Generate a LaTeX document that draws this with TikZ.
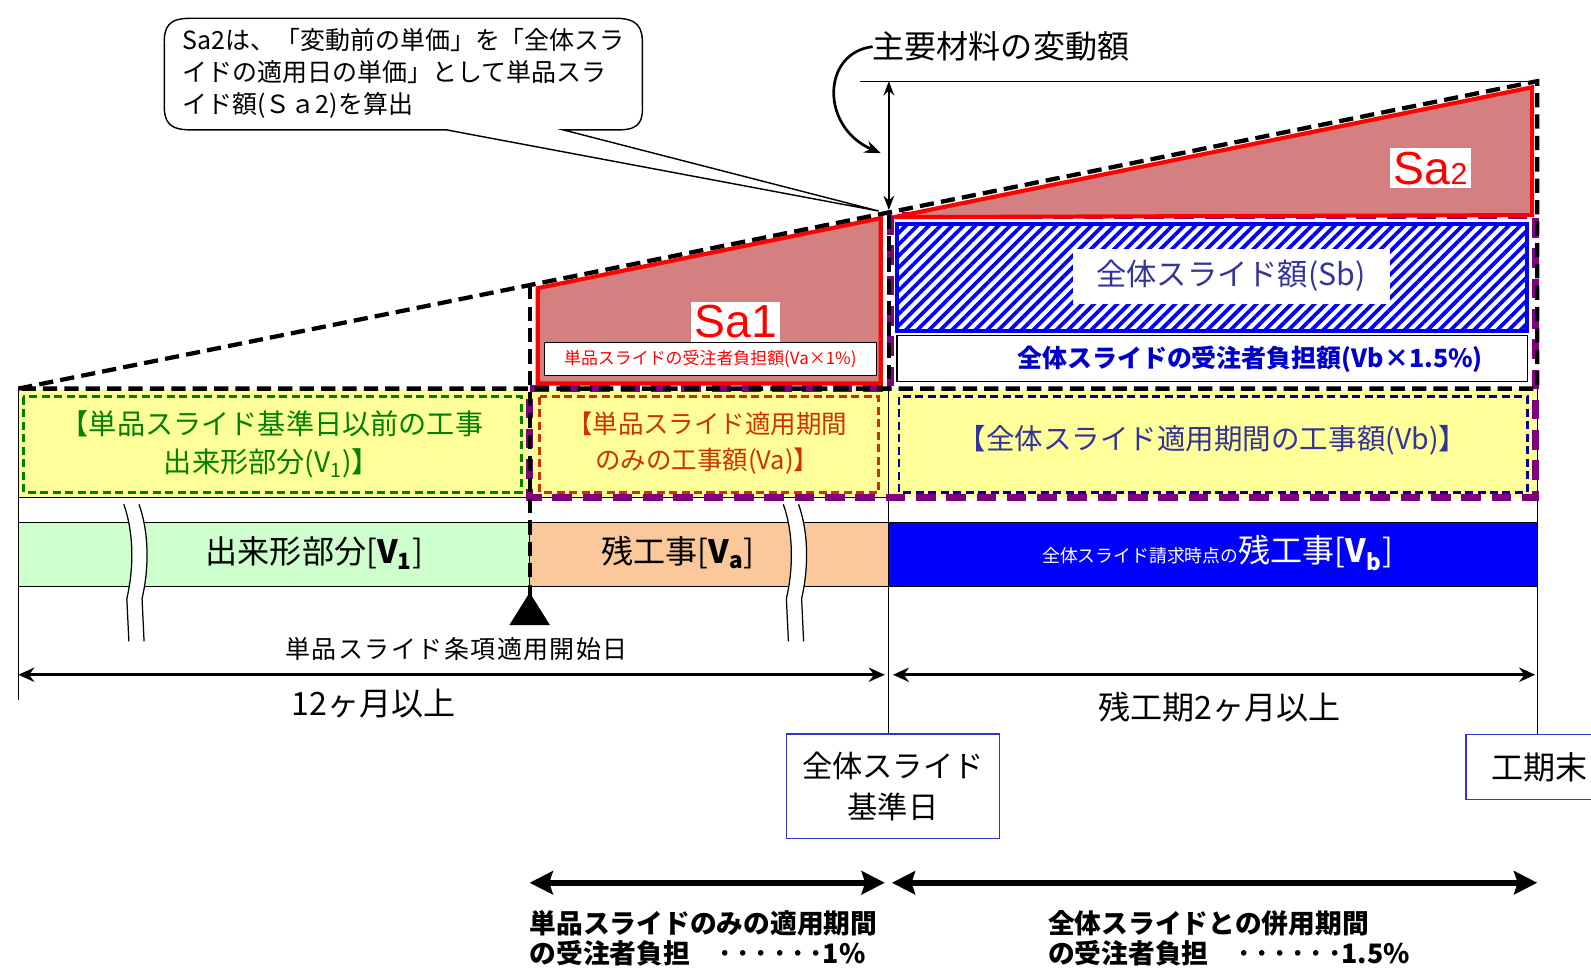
\documentclass[tikz,border=0pt]{standalone}
\usepackage{fontspec}
\setmainfont{Noto Sans CJK JP}
\newfontfamily\arialf{Liberation Sans}
\usetikzlibrary{arrows.meta,patterns.meta}
\definecolor{yel}{RGB}{255,255,153}
\definecolor{barg}{RGB}{204,255,204}
\definecolor{baro}{RGB}{250,200,155}
\definecolor{pur}{RGB}{128,0,128}
\definecolor{sared}{RGB}{212,128,128}
\definecolor{dgreen}{RGB}{0,128,0}
\definecolor{vared}{RGB}{204,51,0}
\definecolor{vblue}{RGB}{51,51,153}
\definecolor{dblue}{RGB}{0,0,153}
\definecolor{bblue}{RGB}{0,0,204}
\definecolor{boxblue}{RGB}{51,51,204}
\tikzset{
  blkdash/.style={draw=black, line width=2.4pt, dash pattern=on 8pt off 4pt},
  purdash/.style={draw=pur, line width=4pt, dash pattern=on 11pt off 6pt},
  thinln/.style={draw=black, line width=0.6pt},
  innerdash/.style={line width=1.6pt, dash pattern=on 4.5pt off 2.5pt},
  dblarrow/.style={{Stealth[length=9pt,width=8pt]}-{Stealth[length=9pt,width=8pt]}, line width=1.6pt},
  thickarrow/.style={{Stealth[length=13pt,width=13pt,inset=2pt]}-{Stealth[length=13pt,width=13pt,inset=2pt]}, line width=3.6pt},
  txt/.style={inner sep=0pt, outer sep=0pt},
  salbl/.style={fill=white, text=red, inner sep=2pt, font=\arialf\fontsize{26}{28}\selectfont},
  sapoly/.style={fill=sared, draw=red, line width=2.3pt, line join=miter},
  datebox/.style={draw=boxblue, line width=0.9pt, fill=white, inner sep=0pt, align=center},
}
\begin{document}
\begin{tikzpicture}[x=0.02cm,y=-0.02cm]
\useasboundingbox (0,0) rectangle (1568,955);
\fill[white] (0,0) rectangle (1568,955);

% ---------- yellow band ----------
\fill[yel] (18,383) rectangle (1515,490);

% ---------- thin structural lines ----------
\coordinate (topL) at (848,80);
\coordinate (topR) at (1515,80);
\coordinate (kTop) at (876,80);
\coordinate (kArr) at (876,207);
\coordinate (kMid) at (876,383);
\coordinate (kBot) at (876,724);
\coordinate (lTop) at (18,383);
\coordinate (lBot) at (18,690);
\coordinate (rTop) at (1515,383);
\coordinate (rBot) at (1515,724);
\draw[thinln] (topL) -- (topR);
\draw[thinln] (kMid) -- (kBot);
\draw[thinln] (lTop) -- (lBot);
\draw[thinln] (rTop) -- (rBot);
\draw[thinln] (18,490) -- (876,490);

% ---------- inner dashed boxes ----------
\draw[dgreen, innerdash] (23,391) rectangle (514,485);
\draw[vared, innerdash] (532,391) rectangle (866,485);
\draw[dblue, innerdash] (886,391) rectangle (1505,485);

\node[txt, text=dgreen, align=center, font=\fontsize{15.8}{21}\selectfont] (v1t) at (268,438)
  {【単品スライド基準日以前の工事\\出来形部分(V\textsubscript{1})】};
\node[txt, text=vared, align=center, font=\fontsize{14.3}{20}\selectfont] (vat) at (697,437)
  {【単品スライド適用期間\\のみの工事額(Va)】};
\node[txt, text=vblue, font=\fontsize{16}{19}\selectfont] (vbt) at (1195,434)
  {【全体スライド適用期間の工事額(Vb)】};

% ---------- purple dashed outline ----------
\draw[purdash] (522,383) -- (878,383) -- (878,212) -- (1513,212) -- (1513,490) -- (522,490) -- cycle;

% ---------- Sa1 / Sa2 ----------
\filldraw[sapoly] (530,284) -- (868,215) -- (868,378) -- (530,378) -- cycle;
\filldraw[sapoly] (881,214) -- (1510,86) -- (1510,212) -- cycle;

\draw[fill=white, line width=0.6pt] (537,338) rectangle (864,370);
\node[txt, text=red, font=\fontsize{9.5}{11}\selectfont] (sa1sub) at (700,354)
  {単品スライドの受注者負担額(Va×1\%)};
\node[salbl] (sa1) at (725,317) {Sa1};
\node[salbl] (sa2) at (1410,166) {Sa{\fontsize{17}{18}\selectfont 2}};

% ---------- Sb ----------
\draw[draw=blue, line width=2.4pt, pattern={Lines[angle=45,distance=4.6pt,line width=2.1pt]}, pattern color=blue]
  (884,221) rectangle (1505,326);
\fill[white] (1057,245) rectangle (1370,300);
\node[txt, text=vblue, font=\fontsize{17}{20}\selectfont] (sbt) at (1213,272) {全体スライド額(Sb)};

\draw[fill=white, line width=0.6pt] (884,331) rectangle (1505,376);
\node[txt, text=bblue, font=\bfseries\fontsize{14}{16}\selectfont] (vbfut) at (1232,354)
  {全体スライドの受注者負担額(Vb×1.5\%)};

% ---------- bars ----------
\draw[thinln, fill=barg] (18,515) rectangle (522,578);
\draw[thinln, fill=baro] (522,515) rectangle (876,578);
\draw[thinln, fill=blue] (876,515) rectangle (1515,578);

\node[txt, font=\fontsize{18}{20}\selectfont] (v1bar) at (310,545)
  {出来形部分[\textbf{V}\textsubscript{\textbf{1}}]};
\node[txt, font=\fontsize{18}{20}\selectfont] (vabar) at (668,545)
  {残工事[\textbf{V}\textsubscript{\textbf{a}}]};
\node[txt, text=white, font=\fontsize{18}{20}\selectfont] (vbbar) at (1200,545)
  {{\fontsize{10}{12}\selectfont 全体スライド請求時点の}残工事[\textbf{V}\textsubscript{\textbf{b}}]};

% ---------- break marks ----------
\foreach \bx in {122,772}{
  \begin{scope}[shift={(\bx,0)}]
    \fill[white] (0,497) .. controls (10,525) and (10,560) .. (3,590) -- (5,632)
      -- (20,632) -- (18,590) .. controls (25,560) and (25,525) .. (15,497) -- cycle;
    \draw[line width=0.7pt] (0,497) .. controls (10,525) and (10,560) .. (3,590) -- (5,632);
    \draw[line width=0.7pt] (15,497) .. controls (25,525) and (25,560) .. (18,590) -- (20,632);
  \end{scope}
}

% ---------- black dashed outline ----------
\draw[blkdash] (18,383) -- (1515,80) -- (1515,383) -- cycle;
\draw[blkdash] (522,281) -- (522,588);
\draw[blkdash] (876,212) -- (876,383);

% ---------- top annotations ----------
\draw[{Stealth[length=8pt,width=6pt]}-{Stealth[length=8pt,width=6pt]}, line width=1.3pt] (kTop) -- (kArr);
\node[txt, anchor=west, font=\fontsize{18}{20}\selectfont] (hendo) at (860,46) {主要材料の変動額};
\draw[-{Stealth[length=9pt,width=7pt]}, line width=1.5pt]
  (hendo.west) .. controls (810,52) and (808,125) .. (868,151);

% callout
\coordinate (ctip) at (866,208);
\draw[fill=white, line width=0.8pt] (440,128) -- (ctip) -- (555,128) -- (610,128)
  .. controls (632,128) and (634,118) .. (633,100) -- (633,46)
  .. controls (634,26) and (628,18) .. (606,18) -- (188,18)
  .. controls (166,18) and (161,26) .. (162,46) -- (162,100)
  .. controls (161,120) and (166,128) .. (188,128) -- cycle;
\node[txt, anchor=north west, align=left, font=\fontsize{14}{18}\selectfont] (calltxt) at (180,28)
  {Sa2は、「変動前の単価」を「全体スラ\\イドの適用日の単価」として単品スラ\\イド額(Ｓａ2)を算出};

% ---------- triangle ----------
\fill[black] (522,584) -- (542,616) -- (502,616) -- cycle;
\node[txt, font=\fontsize{14}{16}\selectfont\addfontfeatures{LetterSpace=6}] (kaishi) at (450,640)
  {単品スライド条項適用開始日};

% ---------- period arrows ----------
\coordinate (a1l) at (18,665);
\coordinate (a1r) at (872,665);
\coordinate (a2l) at (880,665);
\coordinate (a2r) at (1513,665);
\draw[dblarrow] (a1l) -- (a1r);
\draw[dblarrow] (a2l) -- (a2r);
\node[txt, font=\fontsize{18}{20}\selectfont] (m12) at (368,693) {12ヶ月以上};
\node[txt, font=\fontsize{18}{20}\selectfont] (m2) at (1202,697) {残工期2ヶ月以上};

% ---------- date boxes ----------
\node[datebox, minimum width=4.2cm, minimum height=2.06cm, font=\fontsize{17}{22.7}\selectfont] (kijun) at (880,775)
  {全体スライド\\基準日};
\node[datebox, minimum width=2.9cm, minimum height=1.28cm, font=\fontsize{18}{20}\selectfont] (koki) at (1517,756)
  {工期末};

% ---------- bottom thick arrows ----------
\coordinate (b1l) at (522,870);
\coordinate (b1r) at (872,870);
\coordinate (b2l) at (879,870);
\coordinate (b2r) at (1515,870);
\draw[thickarrow] (b1l) -- (b1r);
\draw[thickarrow] (b2l) -- (b2r);

\node[txt, anchor=west, font=\bfseries\fontsize{15}{17}\selectfont] (bt1) at (522,910) {単品スライドのみの適用期間};
\node[txt, anchor=west, font=\bfseries\fontsize{15}{17}\selectfont] (bt2) at (522,940)
  {の受注者負担\hspace{16pt}{\addfontfeatures{LetterSpace=18}･･････}1\%};
\node[txt, anchor=west, font=\bfseries\fontsize{15}{17}\selectfont] (bt3) at (1033,910) {全体スライドとの併用期間};
\node[txt, anchor=west, font=\bfseries\fontsize{15}{17}\selectfont] (bt4) at (1033,940)
  {の受注者負担\hspace{16pt}{\addfontfeatures{LetterSpace=18}･･････}1.5\%};
\end{tikzpicture}
\end{document}
